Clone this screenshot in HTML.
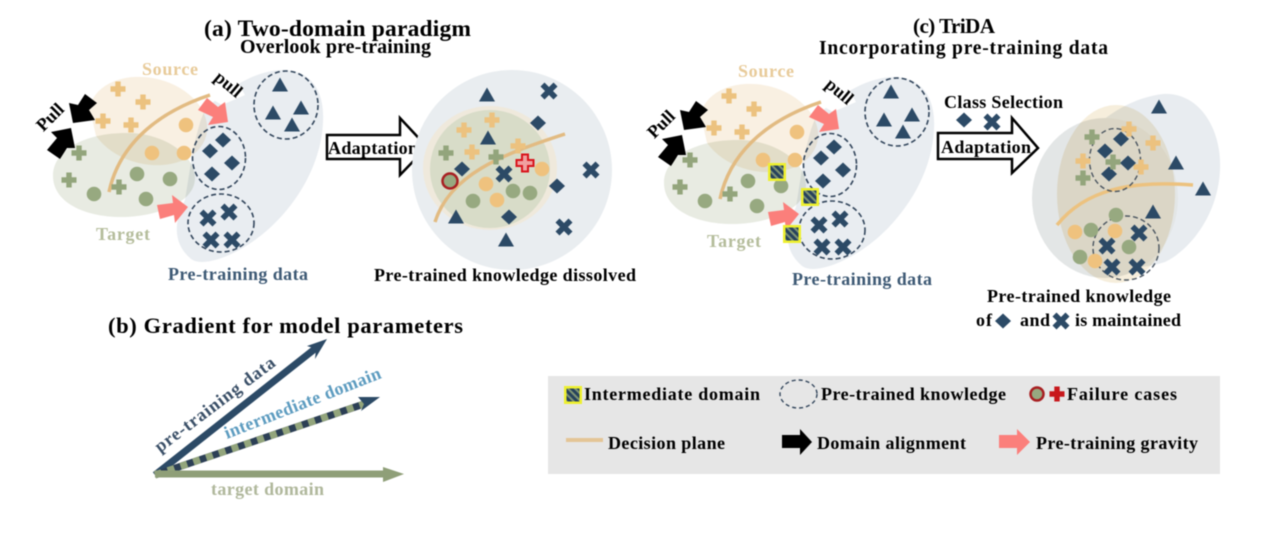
<!DOCTYPE html>
<html><head><meta charset="utf-8"><title>TriDA diagram</title>
<style>
html,body{margin:0;padding:0;background:#fff;width:1280px;height:544px;overflow:hidden}
svg{display:block;filter:blur(.4px)}
text{font-family:"Liberation Serif",serif;font-weight:bold}
.m{mix-blend-mode:multiply}
</style></head><body>
<svg xmlns="http://www.w3.org/2000/svg" width="1280" height="544" viewBox="0 0 1280 544">
<defs>
<pattern id="st" width="5" height="5" patternUnits="userSpaceOnUse" patternTransform="rotate(-45)"><rect width="5" height="5" fill="#26415c"/><rect width="2" height="5" fill="#7f9474"/></pattern>
<g id="pO"><path d="M-2.7-7.5h5.4v4.8h4.8v5.4h-4.8v4.8h-5.4v-4.8h-4.8v-5.4h4.8z" fill="#ecc27f"/></g>
<g id="pG"><path d="M-2.7-7.5h5.4v4.8h4.8v5.4h-4.8v4.8h-5.4v-4.8h-4.8v-5.4h4.8z" fill="#93a57c"/></g>
<g id="x"><path d="M-4.5-8.5L0-4l4.5-4.5 4 4L4 0l4.5 4.5-4 4L0 4l-4.5 4.5-4-4L-4 0l-4.5-4.5z" fill="#2c4a66"/></g>
<g id="d"><path d="M0-7.5L8 0 0 7.5-8 0z" fill="#2c4a66"/></g>
<g id="t"><path d="M0-7.5L8 6.5H-8z" fill="#2c4a66"/></g>
<g id="cO"><circle r="7.3" fill="#efc27e"/></g>
<g id="cG"><circle r="7.3" fill="#97a980"/></g>
<g id="y"><rect x="-9" y="-9" width="18" height="18" fill="#eef02e"/><rect x="-6.5" y="-6.5" width="13" height="13" fill="url(#st)"/></g>
<g id="left">
<path d="M283 70C310 70 325 90 323 122C321 170 290 215 255 240C230 258 200 268 190 258C175 245 172 225 185 200C190 170 195 130 205 110C225 90 255 70 283 70Z" fill="#e9edf1"/>
<ellipse class="m" cx="148" cy="121" rx="60" ry="43" transform="rotate(14 148 121)" fill="#f9f0e2"/>
<path class="m" d="M53 176C53 150 85 132 130 133C165 134 195 155 195 178C195 205 150 218 118 217C80 216 53 200 53 176Z" fill="#e8ebe2"/>
<polygon points="68,120 92,118 96,136 76,142" fill="#fff"/>
<polygon points="200,92 232,72 245,95 222,105 210,98" fill="#fff"/>
<path d="M109 192C118 150 150 115 210 95" fill="none" stroke="#e2bb82" stroke-width="3.5"/>
<use href="#pO" x="118" y="89"/><use href="#pO" x="143" y="102"/><use href="#pO" x="103" y="121"/><use href="#pO" x="131" y="125"/>
<use href="#pG" x="79" y="153"/><use href="#pG" x="69" y="180"/><use href="#pG" x="119" y="187"/>
<use href="#cO" x="186" y="125"/><use href="#cO" x="152" y="153"/><use href="#cO" x="184" y="153"/>
<use href="#cG" x="137" y="174"/><use href="#cG" x="170" y="179"/><use href="#cG" x="94" y="194"/><use href="#cG" x="146" y="199"/>
<ellipse cx="219" cy="158" rx="26.5" ry="31.5" fill="none" stroke="#33465c" stroke-width="1.6" stroke-dasharray="5 3"/>
<ellipse cx="286" cy="105" rx="32" ry="34" fill="none" stroke="#33465c" stroke-width="1.6" stroke-dasharray="5 3"/>
<ellipse cx="221" cy="223" rx="33" ry="29" fill="none" stroke="#33465c" stroke-width="1.6" stroke-dasharray="5 3"/>
<use href="#d" x="223" y="140"/><use href="#d" x="210" y="151"/><use href="#d" x="232" y="163"/><use href="#d" x="212" y="174"/>
<use href="#t" x="280" y="85"/><use href="#t" x="273" y="113"/><use href="#t" x="301" y="108"/><use href="#t" x="292" y="125"/>
<use href="#x" x="208" y="218"/><use href="#x" x="229" y="212"/><use href="#x" x="211" y="240"/><use href="#x" x="232" y="240"/>
<polygon points="198,110 207,98 218,107 225,102 228,122 208,125 213,117" fill="#fb7f7b"/>
<polygon points="157,205 173,203 172,195 188,207 175,223 174,215 160,219" fill="#fb7f7b"/>
<polygon points="85,94 97,103 89,110 95,120 73,123 69,103 78,105" fill="#000"/>
<polygon points="47,150 60,159 67,148 75,148 71,128 51,132 57,138" fill="#000"/>
<text x="50" y="123" font-size="18" text-anchor="middle" transform="rotate(-45 50 117)">Pull</text>
<text x="228" y="90" font-size="18" text-anchor="middle" transform="rotate(40 228 85)">pull</text>
</g>
</defs>
<rect width="1280" height="544" fill="#fff"/>

<!-- Panel a -->
<text x="204" y="36" font-size="23.5" textLength="267" lengthAdjust="spacing">(a) Two-domain paradigm</text>
<text x="240" y="53" font-size="20" textLength="191" lengthAdjust="spacing">Overlook pre-training</text>
<use href="#left"/>
<text x="142" y="75" font-size="18" fill="#e8cb9a" textLength="56">Source</text>
<text x="96" y="240" font-size="18" fill="#b5bd9c" textLength="54">Target</text>
<text x="168" y="280" font-size="18" fill="#3e5a75" textLength="140">Pre-training data</text>

<polygon points="327,135 400,135 400,118 427,147 400,175 400,159 327,159" fill="#fff" stroke="#000" stroke-width="2.5"/>
<text x="328" y="154" font-size="18" textLength="90">Adaptation</text>

<!-- a result -->
<circle cx="512" cy="170" r="100" fill="#e9edf0"/>
<ellipse cx="490" cy="168" rx="67" ry="62" fill="#efe9dc"/>
<ellipse cx="490" cy="169" rx="60" ry="59" fill="#d8dcc8"/>
<path d="M435 222C450 175 500 155 565 134" fill="none" stroke="#e2bb82" stroke-width="3.5"/>
<use href="#t" x="487" y="95"/><use href="#t" x="488" y="138"/><use href="#t" x="456" y="217"/><use href="#t" x="506" y="240"/>
<use href="#pO" x="492" y="120"/><use href="#pO" x="464" y="130"/><use href="#pO" x="472" y="152"/><use href="#pO" x="518" y="146"/>
<use href="#pG" x="446" y="153"/><use href="#pG" x="496" y="157"/>
<use href="#cO" x="542" y="169"/><use href="#cO" x="486" y="184"/><use href="#cO" x="497" y="200"/>
<use href="#cG" x="513" y="191"/><use href="#cG" x="530" y="193"/><use href="#cG" x="473" y="201"/>
<use href="#x" x="549" y="91"/><use href="#x" x="591" y="170"/><use href="#x" x="564" y="227"/><use href="#x" x="504" y="174"/>
<use href="#d" x="538" y="123"/><use href="#d" x="462" y="169"/><use href="#d" x="557" y="186"/><use href="#d" x="509" y="217"/>
<path d="M-3-8.5h6v5.5h5.5v6H3v5.5h-6V3h-5.5v-6H-3z" transform="translate(525 163)" fill="#f0a0a0" stroke="#d9141c" stroke-width="2"/>
<circle cx="450" cy="181" r="7.5" fill="#97a980" stroke="#a81f22" stroke-width="2.5"/>
<text x="374" y="281" font-size="18" textLength="262">Pre-trained knowledge dissolved</text>

<!-- Panel c -->
<text x="913" y="33" font-size="21" textLength="82">(c) TriDA</text>
<text x="819" y="54" font-size="19.5" textLength="289">Incorporating pre-training data</text>
<g transform="translate(611 7)"><use href="#left"/></g>
<use href="#y" x="777" y="172"/><use href="#y" x="810" y="197"/><use href="#y" x="792" y="234"/>
<text x="738" y="77" font-size="18" fill="#e8cb9a" textLength="56">Source</text>
<text x="707" y="247" font-size="18" fill="#b5bd9c" textLength="54">Target</text>
<text x="792" y="285" font-size="18" fill="#3e5a75" textLength="140">Pre-training data</text>

<text x="944" y="108" font-size="18" textLength="119">Class Selection</text>
<use href="#d" x="964" y="120"/><use href="#x" x="992" y="122"/>
<polygon points="938,133 1012,133 1012,118 1038,148 1012,173 1012,159 938,159" fill="#fff" stroke="#000" stroke-width="2.5"/>
<text x="941" y="153" font-size="18" textLength="90">Adaptation</text>

<!-- c result -->
<path d="M1163 94C1200 92 1222 130 1220 170C1218 215 1190 250 1165 262C1110 280 1060 250 1060 200C1060 150 1110 100 1163 94Z" fill="#e8ecf0"/>
<ellipse cx="1105" cy="198" rx="73" ry="80" fill="#e3e6e6"/>
<ellipse class="m" cx="1116" cy="194" rx="59" ry="89" fill="#f6eedc"/>
<path d="M1057 225C1085 190 1130 180 1193 185" fill="none" stroke="#ecc27f" stroke-width="3.5"/>
<ellipse cx="1115" cy="160" rx="25.5" ry="31.5" fill="none" stroke="#4a5560" stroke-width="1.4" stroke-dasharray="5 3"/>
<ellipse cx="1126" cy="248" rx="33" ry="32" fill="none" stroke="#4a5560" stroke-width="1.4" stroke-dasharray="5 3"/>
<use href="#pO" x="1129" y="129"/><use href="#pO" x="1153" y="143"/><use href="#pO" x="1083" y="161"/><use href="#pO" x="1141" y="167"/>
<use href="#pG" x="1092" y="137"/><use href="#pG" x="1083" y="178"/>
<use href="#d" x="1121" y="139"/><use href="#d" x="1105" y="151"/><use href="#d" x="1128" y="163"/><use href="#d" x="1109" y="174"/>
<use href="#pG" x="1113" y="162"/>
<use href="#t" x="1159" y="107"/><use href="#t" x="1176" y="163"/><use href="#t" x="1203" y="189"/><use href="#t" x="1153" y="212"/>
<use href="#cG" x="1116" y="215"/><use href="#cG" x="1091" y="230"/><use href="#cG" x="1129" y="247"/><use href="#cG" x="1080" y="257"/>
<use href="#cO" x="1075" y="232"/><use href="#cO" x="1115" y="231"/><use href="#cO" x="1095" y="261"/>
<use href="#x" x="1139" y="233"/><use href="#x" x="1107" y="246"/><use href="#x" x="1112" y="267"/><use href="#x" x="1137" y="267"/>
<text x="987" y="302" font-size="18" textLength="184">Pre-trained knowledge</text>
<text x="976" y="326" font-size="18" textLength="16">of</text>
<use href="#d" x="1003" y="321"/>
<text x="1020" y="326" font-size="18" textLength="30">and</text>
<use href="#x" x="1061" y="321"/>
<text x="1075" y="326" font-size="18" textLength="106">is maintained</text>

<!-- Panel b -->
<text x="108" y="333" font-size="22.5" textLength="355">(b) Gradient for model parameters</text>
<line x1="155" y1="475" x2="316" y2="348" stroke="#2c4a66" stroke-width="7"/>
<polygon points="327,339 315,359 316,349 307,346" fill="#2c4a66"/>
<line x1="155" y1="475" x2="364" y2="404" stroke="#2c3f55" stroke-width="7"/>
<line x1="155" y1="475" x2="364" y2="404" stroke="#93a57c" stroke-width="7" stroke-dasharray="7 6.5"/>
<polygon points="380,397 361,411 364,404 358,397" fill="#2c4a66"/>
<line x1="155" y1="474" x2="390" y2="474" stroke="#8f9f78" stroke-width="7"/>
<polygon points="404,474 383,467 383,482" fill="#8f9f78"/>
<text x="160" y="453" font-size="18" fill="#3b5068" textLength="146" transform="rotate(-37 160 453)">pre-training data</text>
<text x="227" y="439" font-size="18" fill="#5d9cc0" textLength="167" transform="rotate(-21.5 227 439)">intermediate domain</text>
<text x="211" y="495" font-size="18" fill="#b0b89c" textLength="113">target domain</text>

<!-- Legend -->
<rect x="548" y="376" width="672" height="98" fill="#e6e6e6"/>
<use href="#y" x="573" y="395"/>
<text x="584" y="400" font-size="18" textLength="176">Intermediate domain</text>
<ellipse cx="798.5" cy="394" rx="18.5" ry="14" fill="none" stroke="#33465c" stroke-width="1.4" stroke-dasharray="4 3"/>
<text x="821" y="400" font-size="18" textLength="185">Pre-trained knowledge</text>
<circle cx="1037" cy="394" r="6.5" fill="#97a980" stroke="#a81f22" stroke-width="2.5"/>
<path d="M-2.7-7.5h5.4v4.8h4.8v5.4h-4.8v4.8h-5.4v-4.8h-4.8v-5.4h4.8z" transform="translate(1057 394)" fill="#c8181c"/>
<text x="1067" y="400" font-size="18" textLength="110">Failure cases</text>
<line x1="566" y1="440" x2="603" y2="440" stroke="#e4c596" stroke-width="4"/>
<text x="608" y="449" font-size="18" textLength="117">Decision plane</text>
<polygon points="782,435 800,435 800,429 812,442 800,455 800,448 782,448" fill="#000"/>
<text x="817" y="449" font-size="18" textLength="149">Domain alignment</text>
<polygon points="999,435 1017,435 1017,429 1030,442 1017,455 1017,448 999,448" fill="#fb7f7b"/>
<text x="1036" y="449" font-size="18" textLength="162">Pre-training gravity</text>
</svg>
</body></html>
